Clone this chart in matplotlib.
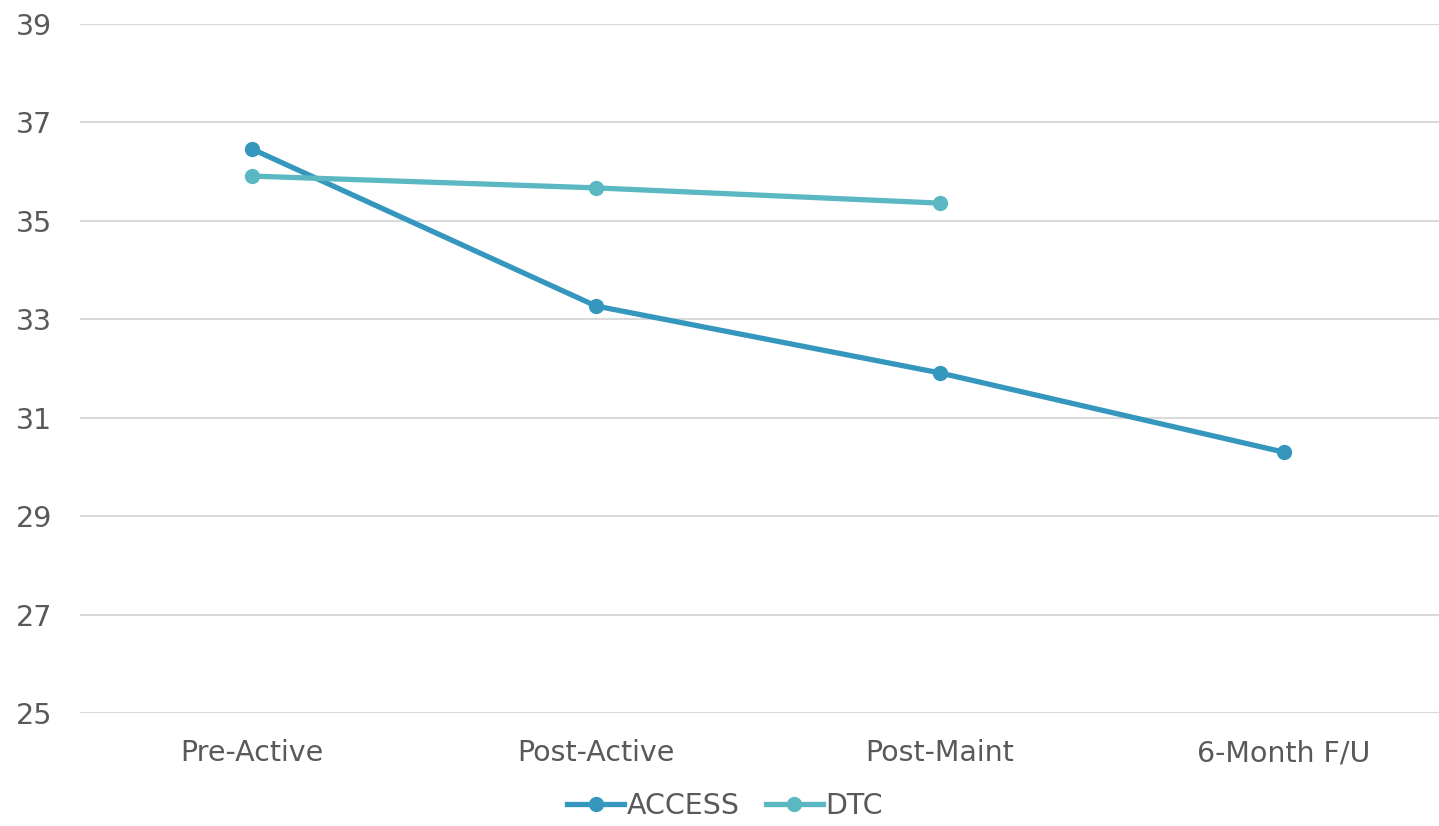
import matplotlib.pyplot as plt

# Scores by assessment point
categories = ["Pre-Active", "Post-Active", "Post-Maint", "6-Month F/U"]
access = [36.46, 33.27, 31.91, 30.30]
dtc = [35.91, 35.67, 35.36]

text_color = "#595959"
plt.rcParams["font.family"] = ["DejaVu Sans"]

fig = plt.figure(figsize=(14.39, 8.26), dpi=100)
ax = fig.add_axes([80 / 1439, 1 - 713 / 826, (1439 - 80) / 1439, (713 - 24) / 826])

x = list(range(len(categories)))
ax.plot(x, access, color="#3597BD", lw=3.8, marker="o", ms=10, label="ACCESS")
ax.plot(x[:len(dtc)], dtc, color="#5BB8C3", lw=3.8, marker="o", ms=10, label="DTC")

ax.set_ylim(25, 39)
ax.set_yticks(range(25, 40, 2))
ax.set_xlim(-0.5, (1439 - 252) / 344)
ax.set_xticks(x)
ax.set_xticklabels(categories)

ax.grid(axis="y", color="#D9D9D9", lw=1.5)
ax.set_axisbelow(True)
for s in ax.spines.values():
    s.set_visible(False)
ax.tick_params(length=0, labelsize=20.5, labelcolor=text_color)
ax.tick_params(axis="y", pad=20)
ax.tick_params(axis="x", pad=19)

ax.legend(loc="center", bbox_to_anchor=(725 / 1439, 1 - 806 / 826), bbox_transform=fig.transFigure,
          ncol=2, frameon=False, fontsize=20.5, handlelength=2.0, columnspacing=0.9,
          handletextpad=0.1, labelcolor=text_color)

fig.savefig("out.png", dpi=100)
